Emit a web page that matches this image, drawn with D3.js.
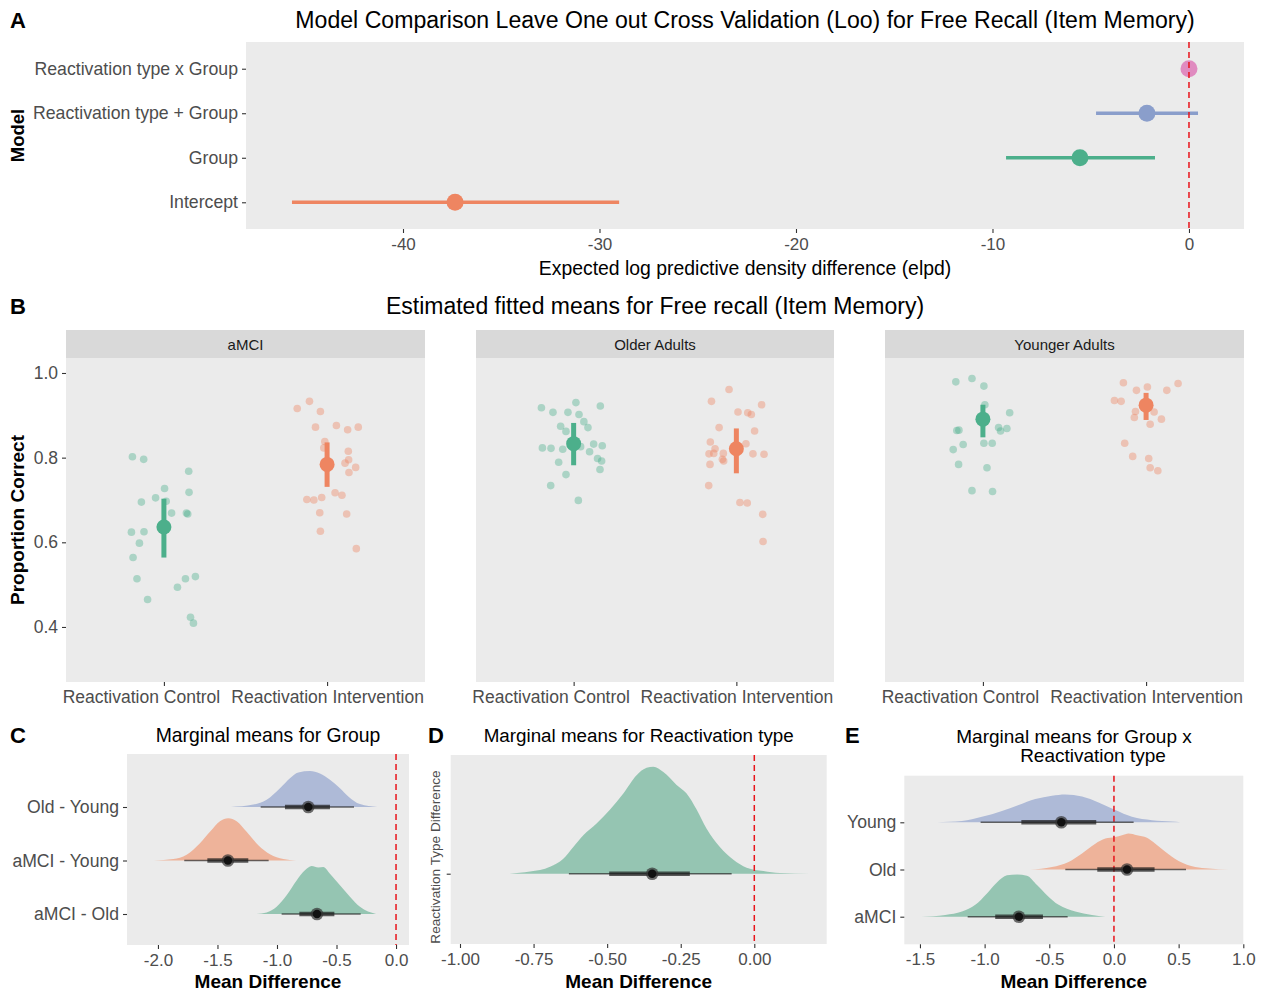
<!DOCTYPE html>
<html>
<head>
<meta charset="utf-8">
<script src="https://cdn.jsdelivr.net/npm/d3@7"></script>
<style>
  body { margin: 0; background: #fff; }
  svg { display: block; }
</style>
</head>
<body>
<svg id="fig" width="1261" height="994"></svg>
<script>
// ---------------- Panel A: LOO model comparison ----------------
const looModels = ["Reactivation type x Group", "Reactivation type + Group", "Group", "Intercept"];
const looEst  = [0, -2.14, -5.55, -37.35];
const looLow  = [0, -4.73, -9.31, -45.65];
const looHigh = [0, 0.46, -1.73, -29.0];
const looTicks = [-40, -30, -20, -10, 0];

// ---------------- Panel B: fitted means + raw scores ----------------
const groups = ["aMCI", "Older Adults", "Younger Adults"];
const conditions = ["Reactivation Control", "Reactivation Intervention"];
const propTicks = [0.4, 0.6, 0.8, 1.0];

const amciCtrlVal = [0.802, 0.796, 0.768, 0.727, 0.705, 0.695, 0.697, 0.718, 0.669, 0.669, 0.667, 0.624, 0.625, 0.598, 0.564, 0.514, 0.494, 0.514, 0.519, 0.465, 0.423, 0.409];
const amciCtrlJit = [-0.193, -0.124, 0.152, 0.004, -0.051, -0.138, 0.014, 0.154, 0.047, 0.138, 0.146, -0.199, -0.122, -0.150, -0.189, -0.165, 0.083, 0.132, 0.193, -0.100, 0.163, 0.181];
const amciIntVal  = [0.916, 0.933, 0.909, 0.872, 0.876, 0.866, 0.872, 0.838, 0.823, 0.815, 0.795, 0.787, 0.777, 0.765, 0.701, 0.700, 0.706, 0.717, 0.711, 0.670, 0.667, 0.626, 0.585];
const amciIntJit  = [-0.183, -0.108, -0.041, -0.071, 0.057, 0.126, 0.191, -0.014, -0.020, 0.130, 0.132, 0.110, 0.175, 0.134, -0.124, -0.081, -0.033, 0.049, 0.091, -0.045, 0.120, -0.041, 0.179];
const olderCtrlVal = [0.918, 0.907, 0.907, 0.930, 0.922, 0.902, 0.885, 0.871, 0.874, 0.862, 0.823, 0.822, 0.820, 0.826, 0.832, 0.828, 0.814, 0.789, 0.798, 0.792, 0.772, 0.760, 0.734, 0.699];
const olderCtrlJit = [-0.198, -0.127, -0.035, 0.014, 0.164, 0.033, 0.063, 0.088, -0.080, -0.047, -0.192, -0.139, -0.067, 0.043, 0.123, 0.176, 0.098, -0.092, 0.147, 0.172, 0.162, -0.047, -0.141, 0.029];
const olderIntVal  = [0.961, 0.933, 0.925, 0.908, 0.906, 0.902, 0.871, 0.863, 0.837, 0.833, 0.821, 0.809, 0.810, 0.810, 0.796, 0.792, 0.809, 0.808, 0.784, 0.734, 0.694, 0.693, 0.666, 0.602];
const olderIntJit  = [-0.045, -0.153, 0.155, 0.010, 0.070, 0.092, -0.106, 0.112, -0.160, 0.059, -0.131, -0.168, -0.139, -0.080, -0.086, -0.078, 0.102, 0.170, -0.162, -0.170, 0.022, 0.067, 0.162, 0.164];
const youngCtrlVal = [0.979, 0.987, 0.969, 0.925, 0.906, 0.864, 0.865, 0.871, 0.863, 0.869, 0.819, 0.831, 0.834, 0.834, 0.784, 0.776, 0.722, 0.720];
const youngCtrlJit = [-0.166, -0.067, 0.006, 0.012, 0.164, -0.160, -0.147, 0.096, 0.108, 0.147, -0.182, -0.121, 0.006, 0.057, -0.149, 0.025, -0.067, 0.059];
const youngIntVal  = [0.977, 0.967, 0.959, 0.959, 0.975, 0.935, 0.933, 0.909, 0.908, 0.895, 0.879, 0.891, 0.834, 0.803, 0.798, 0.776, 0.769];
const youngIntJit  = [-0.139, 0.008, -0.059, 0.127, 0.196, -0.194, -0.153, -0.065, 0.049, -0.072, 0.025, 0.094, -0.131, -0.082, 0.016, 0.025, 0.072];

const fitMean = [[0.636, 0.784], [0.833, 0.821], [0.891, 0.924]];
const fitLow  = [[0.564, 0.731], [0.782, 0.763], [0.848, 0.889]];
const fitHigh = [[0.703, 0.836], [0.882, 0.869], [0.925, 0.953]];

// ---------------- Panel C: marginal means for Group ----------------
const cRows = ["Old - Young", "aMCI - Young", "aMCI - Old"];
const cPoint   = [-0.737, -1.412, -0.664];
const cThickLo = [-0.933, -1.585, -0.812];
const cThickHi = [-0.555, -1.241, -0.518];
const cThinLo  = [-1.137, -1.779, -0.961];
const cThinHi  = [-0.353, -1.070, -0.297];
const cTicks = [-2.0, -1.5, -1.0, -0.5, 0.0];
// density profiles [value, relative density]
const cDensOldYoung = [[-1.387, 0], [-1.199, 0.05], [-1.087, 0.15], [-0.975, 0.39], [-0.891, 0.60], [-0.821, 0.72], [-0.723, 0.75], [-0.639, 0.70], [-0.555, 0.57], [-0.471, 0.39], [-0.401, 0.22], [-0.303, 0.06], [-0.157, 0]];
const cDensAmciYoung = [[-2.034, 0], [-1.871, 0.03], [-1.759, 0.12], [-1.647, 0.36], [-1.563, 0.60], [-1.479, 0.82], [-1.409, 0.88], [-1.339, 0.82], [-1.255, 0.60], [-1.157, 0.32], [-1.059, 0.13], [-0.947, 0.03], [-0.840, 0]];
const cDensAmciOld = [[-1.171, 0], [-1.087, 0.03], [-1.003, 0.15], [-0.919, 0.39], [-0.835, 0.70], [-0.765, 0.91], [-0.709, 1.0], [-0.653, 0.97], [-0.611, 0.98], [-0.555, 0.84], [-0.471, 0.60], [-0.387, 0.36], [-0.303, 0.15], [-0.168, 0]];

// ---------------- Panel D: marginal means for Reactivation type ----------------
const dRows = [""];
const dPoint = [-0.347];
const dThickLo = [-0.493], dThickHi = [-0.219];
const dThinLo = [-0.630], dThinHi = [-0.077];
const dTicks = [-1.0, -0.75, -0.5, -0.25, 0.0];
const dDens = [[-0.832, 0], [-0.762, 0.02], [-0.694, 0.065], [-0.649, 0.14], [-0.615, 0.25], [-0.581, 0.36], [-0.536, 0.47], [-0.490, 0.60], [-0.445, 0.75], [-0.400, 0.92], [-0.366, 0.99], [-0.343, 1.0], [-0.309, 0.95], [-0.264, 0.83], [-0.230, 0.75], [-0.196, 0.60], [-0.162, 0.42], [-0.117, 0.25], [-0.071, 0.13], [-0.026, 0.056], [0.031, 0.025], [0.087, 0.006], [0.189, 0]];

// ---------------- Panel E: Group x Reactivation type ----------------
const eRows = ["Young", "Old", "aMCI"];
const ePoint   = [-0.407, 0.101, -0.735];
const eThickLo = [-0.716, -0.129, -0.918];
const eThickHi = [-0.137, 0.314, -0.549];
const eThinLo  = [-1.031, -0.376, -1.131];
const eThinHi  = [0.152, 0.557, -0.358];
const eTicks = [-1.5, -1.0, -0.5, 0.0, 0.5, 1.0];
const eDensYoung = [[-1.369, 0], [-1.175, 0.03], [-1.021, 0.13], [-0.866, 0.27], [-0.737, 0.41], [-0.608, 0.55], [-0.479, 0.63], [-0.376, 0.66], [-0.247, 0.61], [-0.119, 0.47], [0.010, 0.29], [0.139, 0.13], [0.294, 0.05], [0.450, 0.016], [0.513, 0]];
const eDensOld = [[-0.647, 0], [-0.479, 0.06], [-0.351, 0.18], [-0.247, 0.38], [-0.144, 0.61], [-0.067, 0.73], [0.010, 0.77], [0.062, 0.81], [0.113, 0.85], [0.178, 0.81], [0.255, 0.75], [0.320, 0.61], [0.397, 0.42], [0.500, 0.20], [0.629, 0.06], [0.732, 0.024], [0.887, 0]];
const eDensAmci = [[-1.490, 0], [-1.304, 0.04], [-1.175, 0.12], [-1.072, 0.28], [-0.982, 0.55], [-0.905, 0.81], [-0.827, 0.98], [-0.750, 1.0], [-0.673, 0.97], [-0.595, 0.75], [-0.518, 0.51], [-0.428, 0.28], [-0.299, 0.12], [-0.170, 0.04], [-0.067, 0]];

// ---------------- styling ----------------
const FONT = '"Liberation Sans", Arial, sans-serif';
const PANEL_BG = "#EBEBEB";
const STRIP_BG = "#D9D9D9";
const TICK_TXT = "#4D4D4D";
const GREEN = "#4CAF8B", ORANGE = "#EE8561", BLUE = "#8A9ECB", PINK = "#E08BC0";
const FILL_BLUE = "#AEBAD7", FILL_ORANGE = "#EEB39A", FILL_GREEN = "#95C5B2";
const REF_RED = "#E8141B";

const svg = d3.select("#fig").attr("font-family", FONT);

function addText(txt, x, y, size, opts = {}) {
    return svg.append("text")
        .attr("x", x).attr("y", y)
        .attr("font-size", size)
        .attr("font-weight", opts.bold ? "bold" : "normal")
        .attr("text-anchor", opts.anchor || "middle")
        .attr("fill", opts.fill || "#000")
        .attr("transform", opts.rotate ? `rotate(-90, ${x}, ${y})` : null)
        .text(txt);
}

function styleAxis(g, size) {
    g.attr("font-family", FONT).attr("font-size", size);
    g.select(".domain").remove();
    g.selectAll(".tick line").attr("stroke", "#333").attr("stroke-width", 1.1);
    g.selectAll(".tick text").attr("fill", TICK_TXT);
}

const fmtNum = d => String(d);

// ---------------- draw A ----------------
function drawPanelA() {
    const r = {l: 246, r: 1244, t: 42, b: 229};
    const x = d3.scaleLinear().domain([-47.99, 2.8]).range([r.l, r.r]);
    const y = d3.scalePoint().domain(looModels).range([r.t, r.b]).padding(0.6);
    const colors = [PINK, BLUE, GREEN, ORANGE];

    svg.append("rect").attr("x", r.l).attr("y", r.t).attr("width", r.r - r.l).attr("height", r.b - r.t).attr("fill", PANEL_BG);

    const gx = svg.append("g").attr("transform", `translate(0,${r.b})`)
        .call(d3.axisBottom(x).tickValues(looTicks).tickFormat(fmtNum).tickSize(4).tickPadding(5));
    styleAxis(gx, 17);
    const gy = svg.append("g").attr("transform", `translate(${r.l},0)`)
        .call(d3.axisLeft(y).tickSize(4).tickPadding(4));
    styleAxis(gy, 17.7);

    const rows = svg.append("g");
    looModels.forEach((m, i) => {
        if (looHigh[i] !== looLow[i]) {
            rows.append("line")
                .attr("x1", x(looLow[i])).attr("x2", x(looHigh[i]))
                .attr("y1", y(m)).attr("y2", y(m))
                .attr("stroke", colors[i]).attr("stroke-width", 3.6);
        }
        rows.append("circle")
            .attr("cx", x(looEst[i])).attr("cy", y(m)).attr("r", 8.5)
            .attr("fill", colors[i]);
    });

    // reference line on top
    svg.append("line")
        .attr("x1", x(0)).attr("x2", x(0)).attr("y1", r.t).attr("y2", r.b)
        .attr("stroke", REF_RED).attr("stroke-width", 1.5).attr("stroke-dasharray", "6,4");

    addText("Model Comparison Leave One out Cross Validation (Loo) for Free Recall (Item Memory)", (r.l + r.r) / 2, 28, 23.1);
    addText("Expected log predictive density difference (elpd)", (r.l + r.r) / 2, 275, 19.4);
    addText("Model", 24, (r.t + r.b) / 2, 18.5, {bold: true, rotate: true});
    addText("A", 10, 28, 22, {bold: true, anchor: "start"});
}

// ---------------- draw B ----------------
const obsVal = [[amciCtrlVal, amciIntVal], [olderCtrlVal, olderIntVal], [youngCtrlVal, youngIntVal]];
const obsJit = [[amciCtrlJit, amciIntJit], [olderCtrlJit, olderIntJit], [youngCtrlJit, youngIntJit]];

function drawFacet(gi, left, right, y) {
    const stripTop = 330, top = 358, bottom = 682;
    const x = d3.scalePoint().domain(conditions).range([left, right]).padding(0.6);
    const condColor = [GREEN, ORANGE];

    svg.append("rect").attr("x", left).attr("y", stripTop).attr("width", right - left).attr("height", top - stripTop).attr("fill", STRIP_BG);
    addText(groups[gi], (left + right) / 2, 350, 15, {fill: "#1A1A1A"});
    svg.append("rect").attr("x", left).attr("y", top).attr("width", right - left).attr("height", bottom - top).attr("fill", PANEL_BG);

    const gx = svg.append("g").attr("transform", `translate(0,${bottom})`)
        .call(d3.axisBottom(x).tickSize(4).tickPadding(5));
    styleAxis(gx, 17.5);
    // the first label sits left of its tick in the original figure
    gx.selectAll(".tick text").filter((d, i) => i === 0).attr("dx", -23);
    if (gi === 0) {
        const gy = svg.append("g").attr("transform", `translate(${left},0)`)
            .call(d3.axisLeft(y).tickValues(propTicks).tickFormat(d3.format(".1f")).tickSize(4).tickPadding(4));
        styleAxis(gy, 17.5);
    }

    conditions.forEach((c, ci) => {
        const vals = obsVal[gi][ci], jit = obsJit[gi][ci];
        svg.append("g").selectAll("circle")
            .data(vals)
            .enter()
            .append("circle")
            .attr("cx", (d, i) => x(c) + jit[i] * x.step())
            .attr("cy", d => y(d))
            .attr("r", 3.8)
            .attr("fill", condColor[ci])
            .attr("fill-opacity", 0.4);
    });
    conditions.forEach((c, ci) => {
        svg.append("line")
            .attr("x1", x(c)).attr("x2", x(c))
            .attr("y1", y(fitLow[gi][ci])).attr("y2", y(fitHigh[gi][ci]))
            .attr("stroke", condColor[ci]).attr("stroke-width", 5);
        svg.append("circle")
            .attr("cx", x(c)).attr("cy", y(fitMean[gi][ci])).attr("r", 7.5)
            .attr("fill", condColor[ci]);
    });
}

function drawPanelB() {
    const y = d3.scaleLinear().domain([0.270, 1.0354]).range([682, 358]);
    const facetX = [[66, 425], [476, 834], [885, 1244]];
    facetX.forEach((fx, i) => drawFacet(i, fx[0], fx[1], y));
    addText("Estimated fitted means for Free recall (Item Memory)", 655, 314, 23);
    addText("Proportion Correct", 24, 520, 19, {bold: true, rotate: true});
    addText("B", 10, 314, 22, {bold: true, anchor: "start"});
}

// ---------------- half-eye panels (C, D, E) ----------------
function drawHalfEye(cfg) {
    const r = cfg.rect;
    const x = d3.scaleLinear().domain(cfg.domain).range([r.l, r.r]);
    const y = d3.scalePoint().domain(cfg.rows).range(cfg.rowRange);
    const h = d3.scaleLinear().domain([0, 1]).range([0, cfg.hMax]);

    svg.append("rect").attr("x", r.l).attr("y", r.t).attr("width", r.r - r.l).attr("height", r.b - r.t).attr("fill", PANEL_BG);

    const gx = svg.append("g").attr("transform", `translate(0,${r.b})`)
        .call(d3.axisBottom(x).tickValues(cfg.ticks).tickFormat(cfg.fmt).tickSize(4).tickPadding(5));
    styleAxis(gx, 17);
    const gy = svg.append("g").attr("transform", `translate(${r.l},0)`)
        .call(d3.axisLeft(y).tickSize(4).tickPadding(4));
    styleAxis(gy, 17.6);

    // densities
    cfg.rows.forEach((row, i) => {
        const area = d3.area()
            .curve(d3.curveMonotoneX)
            .x(d => x(d[0]))
            .y0(y(row))
            .y1(d => y(row) - h(d[1]));
        svg.append("path").datum(cfg.dens[i]).attr("d", area).attr("fill", cfg.fills[i]);
    });

    // zero line
    svg.append("line")
        .attr("x1", x(0)).attr("x2", x(0)).attr("y1", r.t).attr("y2", r.b)
        .attr("stroke", REF_RED).attr("stroke-width", 1.5).attr("stroke-dasharray", "6,4");

    // intervals + point
    cfg.rows.forEach((row, i) => {
        svg.append("line")
            .attr("x1", x(cfg.thinLo[i])).attr("x2", x(cfg.thinHi[i]))
            .attr("y1", y(row)).attr("y2", y(row))
            .attr("stroke", "#1a1a1a").attr("stroke-opacity", 0.65).attr("stroke-width", 1.6);
        svg.append("line")
            .attr("x1", x(cfg.thickLo[i])).attr("x2", x(cfg.thickHi[i]))
            .attr("y1", y(row)).attr("y2", y(row))
            .attr("stroke", "#1a1a1a").attr("stroke-opacity", 0.7).attr("stroke-width", 4.5);
        svg.append("circle")
            .attr("cx", x(cfg.point[i])).attr("cy", y(row)).attr("r", 6.3)
            .attr("fill", "#333").attr("fill-opacity", 0.7);
        svg.append("circle")
            .attr("cx", x(cfg.point[i])).attr("cy", y(row)).attr("r", 4.2)
            .attr("fill", "#111");
    });

    const cx = (r.l + r.r) / 2;
    addText("Mean Difference", cx, 988, 19, {bold: true});
}

function drawPanelsCDE() {
    drawHalfEye({
        rect: {l: 127, r: 409, t: 754, b: 945},
        domain: [-2.26, 0.109], ticks: cTicks, fmt: d3.format(".1f"),
        rows: cRows, rowRange: [807, 914], hMax: 48,
        dens: [cDensOldYoung, cDensAmciYoung, cDensAmciOld],
        fills: [FILL_BLUE, FILL_ORANGE, FILL_GREEN],
        point: cPoint, thickLo: cThickLo, thickHi: cThickHi, thinLo: cThinLo, thinHi: cThinHi
    });
    addText("Marginal means for Group", 268, 742, 19.35);
    addText("C", 10, 743, 22, {bold: true, anchor: "start"});

    drawHalfEye({
        rect: {l: 450.7, r: 826.7, t: 755, b: 944},
        domain: [-1.0316, 0.246], ticks: dTicks, fmt: d3.format(".2f"),
        rows: dRows, rowRange: [873.7, 873.7], hMax: 107,
        dens: [dDens], fills: [FILL_GREEN],
        point: dPoint, thickLo: dThickLo, thickHi: dThickHi, thinLo: dThinLo, thinHi: dThinHi
    });
    addText("Marginal means for Reactivation type", 638.7, 742, 18.8);
    addText("Reactivation Type Difference", 440, 857, 13.6, {rotate: true, fill: TICK_TXT});
    addText("D", 428, 743, 22, {bold: true, anchor: "start"});

    drawHalfEye({
        rect: {l: 904.3, r: 1243.3, t: 775.7, b: 944.3},
        domain: [-1.621, 1.0], ticks: eTicks, fmt: d3.format(".1f"),
        rows: eRows, rowRange: [822.3, 916.7], hMax: 42.3,
        dens: [eDensYoung, eDensOld, eDensAmci],
        fills: [FILL_BLUE, FILL_ORANGE, FILL_GREEN],
        point: ePoint, thickLo: eThickLo, thickHi: eThickHi, thinLo: eThinLo, thinHi: eThinHi
    });
    addText("Marginal means for Group x", 1074, 743, 19);
    addText("Reactivation type", 1093, 762, 19);
    addText("E", 845, 743, 22, {bold: true, anchor: "start"});
}

// d3.format uses a unicode minus; the figure uses a plain hyphen
d3.formatDefaultLocale({decimal: ".", thousands: ",", grouping: [3], currency: ["$", ""], minus: "-"});

drawPanelA();
drawPanelB();
drawPanelsCDE();
</script>
</body>
</html>
